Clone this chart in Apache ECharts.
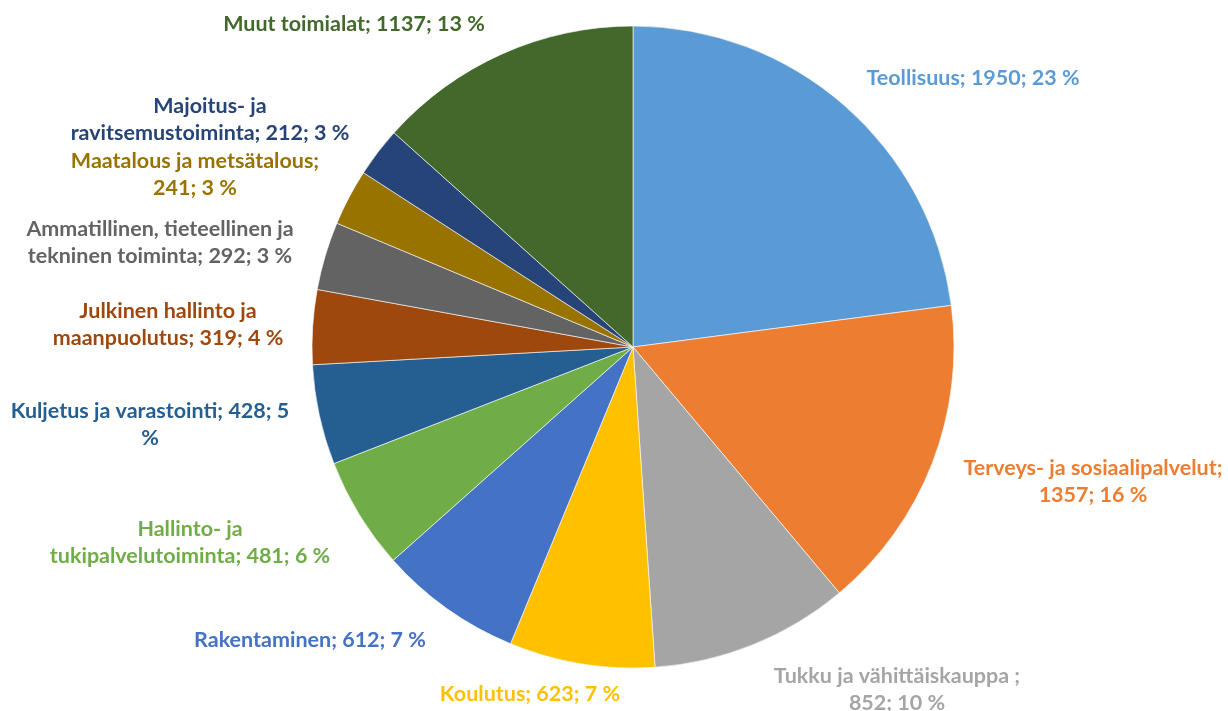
<!DOCTYPE html>
<html>
<head>
<meta charset="utf-8">
<script src="https://cdn.jsdelivr.net/npm/echarts@6/dist/echarts.min.js"></script>
<style>
html,body{margin:0;padding:0;background:#fff;}
#chart{width:1228px;height:711px;}
</style>
</head>
<body>
<div id="chart"></div>
<script>
// ---- data ----
var categories = [
  "Teollisuus",
  "Terveys- ja sosiaalipalvelut",
  "Tukku ja vähittäiskauppa ",
  "Koulutus",
  "Rakentaminen",
  "Hallinto- ja tukipalvelutoiminta",
  "Kuljetus ja varastointi",
  "Julkinen hallinto ja maanpuolutus",
  "Ammatillinen, tieteellinen ja tekninen toiminta",
  "Maatalous ja metsätalous",
  "Majoitus- ja ravitsemustoiminta",
  "Muut toimialat"
];
var values = [1950, 1357, 852, 623, 612, 481, 428, 319, 292, 241, 212, 1137];

// ---- styling ----
var colors = ["#5B9BD5","#ED7D31","#A5A5A5","#FFC000","#4472C4","#70AD47",
              "#255E91","#9E480E","#636363","#997300","#264478","#43682B"];
// label text templates: {n}=name, {v}=value, {p}=percent
var labelTemplates = [
  "{n}; {v}; {p} %",
  "{n};\n{v}; {p} %",
  "{n};\n{v}; {p} %",
  "{n}; {v}; {p} %",
  "{n}; {v}; {p} %",
  "Hallinto- ja\ntukipalvelutoiminta; {v}; {p} %",
  "{n}; {v}; {p}\n%",
  "Julkinen hallinto ja\nmaanpuolutus; {v}; {p} %",
  "Ammatillinen, tieteellinen ja\ntekninen toiminta; {v}; {p} %",
  "{n};\n{v}; {p} %",
  "Majoitus- ja\nravitsemustoiminta; {v}; {p} %",
  "{n}; {v}; {p} %"
];
// label centre positions (px)
var labelPos = [
  [973, 78], [1093, 482], [897, 690], [530, 694], [310, 640], [190, 543],
  [150, 425], [168, 325], [160, 243], [195, 175], [210, 120], [354, 24]
];

var chart = echarts.init(document.getElementById('chart'), null, {renderer: 'canvas'});
var seriesData = categories.map(function (c, i) {
  return {
    name: c,
    value: values[i],
    itemStyle: {color: colors[i]},
    label: {color: colors[i]}
  };
});

chart.setOption({
  animation: false,
  series: [{
    type: 'pie',
    center: [633, 347],
    radius: [0, 321],
    startAngle: 90,
    clockwise: true,
    percentPrecision: 0,
    data: seriesData,
    itemStyle: {borderColor: 'rgba(255,255,255,0.6)', borderWidth: 1},
    label: {
      show: true,
      position: 'outside',
      fontFamily: 'Lato',
      fontWeight: 'bold',
      fontSize: 21.5,
      lineHeight: 27,
      align: 'center',
      overflow: 'none',
      formatter: function (p) {
        return labelTemplates[p.dataIndex]
          .replace('{n}', p.name)
          .replace('{v}', p.value)
          .replace('{p}', p.percent);
      }
    },
    labelLine: {show: false},
    labelLayout: function (params) {
      var pos = labelPos[params.dataIndex];
      return {x: pos[0], y: pos[1], align: 'center', verticalAlign: 'middle'};
    },
    emphasis: {disabled: true}
  }]
});
</script>
</body>
</html>
